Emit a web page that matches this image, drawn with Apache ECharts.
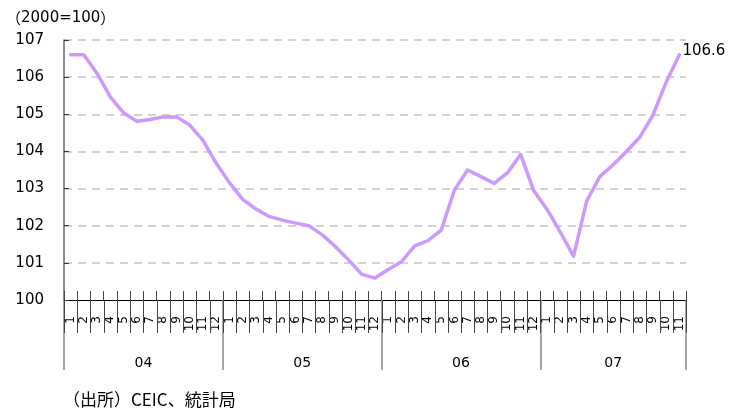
<!DOCTYPE html>
<html>
<head>
<meta charset="utf-8">
<script src="https://cdn.jsdelivr.net/npm/echarts@6/dist/echarts.min.js"></script>
<style>
  html, body { margin: 0; padding: 0; background: #fff; }
  #chart { width: 742px; height: 414px; }
</style>
</head>
<body>
<div id="chart"></div>
<script>
// Monthly index values, 2000 = 100
const years = ['04', '05', '06', '07'];
const v2004 = [106.6, 106.6, 106.1, 105.47, 105.04, 104.81, 104.86, 104.93, 104.93, 104.71, 104.3, 103.68];
const v2005 = [103.16, 102.71, 102.45, 102.25, 102.15, 102.07, 102.0, 101.76, 101.44, 101.08, 100.69, 100.59];
const v2006 = [100.82, 101.03, 101.46, 101.6, 101.88, 102.96, 103.5, 103.32, 103.14, 103.42, 103.92, 102.94];
const v2007 = [102.44, 101.83, 101.18, 102.67, 103.33, 103.64, 104.0, 104.38, 104.98, 105.86, 106.6];
const yMin = 100, yMax = 107, yStep = 1;
const unitNumber = '2000=100';
const sourceText = '（出所）CEIC、統計局';

const perYear = [v2004, v2005, v2006, v2007];
const categories = [];
const values = [];
perYear.forEach((arr, yi) => {
  arr.forEach((v, mi) => {
    categories.push(years[yi] + '/' + (mi + 1));
    values.push(v);
  });
});

// Year group boundaries and centres, counted in months
const bounds = [0];
perYear.forEach(arr => bounds.push(bounds[bounds.length - 1] + arr.length));
const centers = years.map((y, i) => (bounds[i] + bounds[i + 1]) / 2);
const total = bounds[bounds.length - 1];
const monthEdges = [];
for (let i = 0; i <= total; i++) monthEdges.push(i);

const numFont = 'DejaVu Sans, "Noto Sans CJK JP", sans-serif';
const jpFont = '"Noto Sans CJK JP", sans-serif';

// Decoration-only axis spanning the month range
function edgeAxis(extra) {
  return Object.assign({
    type: 'value',
    gridIndex: 0,
    position: 'bottom',
    min: 0, max: total,
    axisLine: { show: false },
    axisTick: { show: false },
    axisLabel: { show: false },
    splitLine: { show: false }
  }, extra);
}

const textElements = [
  {
    type: 'text', left: 6, top: 11,
    style: {
      text: '{p|（}{n|' + unitNumber + '}{p|）}',
      rich: {
        p: { fontFamily: jpFont, fontSize: 15, fill: '#000' },
        n: { fontFamily: numFont, fontSize: 15, fill: '#000' }
      }
    }
  },
  {
    type: 'text', left: 63, top: 391,
    style: { text: sourceText, font: '17px ' + jpFont, fill: '#000' }
  }
];

const chart = echarts.init(document.getElementById('chart'), null, { renderer: 'canvas' });
chart.setOption({
  animation: false,
  backgroundColor: '#ffffff',
  grid: { left: 64, right: 56, top: 40, bottom: 114, containLabel: false },
  xAxis: [
    {
      type: 'category',
      gridIndex: 0,
      data: categories,
      boundaryGap: true,
      position: 'bottom',
      axisLine: { show: true, lineStyle: { color: '#000', width: 1 } },
      axisTick: { show: false },
      axisLabel: {
        interval: 0, rotate: 90, margin: 16,
        fontSize: 12, color: '#000', fontFamily: numFont,
        formatter: v => v.split('/')[1]
      },
      splitLine: { show: false }
    },
    // month separators, above the axis line
    edgeAxis({
      axisTick: { show: true, inside: true, customValues: monthEdges, length: 9, lineStyle: { color: '#444', width: 1 } }
    }),
    // year separators and year labels
    edgeAxis({
      axisTick: { show: true, customValues: bounds, length: 70, lineStyle: { color: '#888', width: 1.5 } },
      axisLabel: {
        show: true, customValues: centers, margin: 56,
        fontSize: 14, color: '#000', fontFamily: numFont,
        formatter: v => {
          const i = centers.findIndex(c => Math.abs(c - v) < 1e-6);
          return i >= 0 ? years[i] : '';
        }
      }
    })
  ],
  yAxis: {
    type: 'value',
    gridIndex: 0,
    min: yMin, max: yMax, interval: yStep,
    axisLine: { show: true, lineStyle: { color: '#666', width: 1.5 } },
    axisTick: { show: true, inside: true, length: 5, lineStyle: { color: '#333' } },
    axisLabel: { margin: 20, fontSize: 15, color: '#000', fontFamily: numFont },
    splitLine: { show: true, showMinLine: false, lineStyle: { color: '#c4c4c4', type: [8, 6], width: 1.5 } }
  },
  series: [
    {
      type: 'line',
      xAxisIndex: 0,
      yAxisIndex: 0,
      data: values,
      symbol: 'none',
      lineStyle: { color: '#cc99ff', width: 3.5, cap: 'round', join: 'round' },
      endLabel: {
        show: true,
        formatter: p => Number(p.value).toFixed(1),
        fontSize: 15, color: '#000', fontFamily: numFont,
        distance: 3, offset: [0, -4]
      }
    }
  ],
  graphic: { elements: textElements }
});

// Month separators below the axis line, placed through the month scale
const axisY = chart.convertToPixel({ yAxisIndex: 0 }, yMin);
const separatorDepth = 33;
const separators = monthEdges.map(m => {
  const x = Math.round(chart.convertToPixel({ xAxisIndex: 1 }, m)) + 0.5;
  return {
    type: 'line',
    silent: true,
    z: 10,
    shape: { x1: x, y1: axisY, x2: x, y2: axisY + separatorDepth },
    style: { stroke: '#444', lineWidth: 1 }
  };
});
chart.setOption({ graphic: { elements: textElements.concat(separators) } }, { replaceMerge: ['graphic'] });
</script>
</body>
</html>
